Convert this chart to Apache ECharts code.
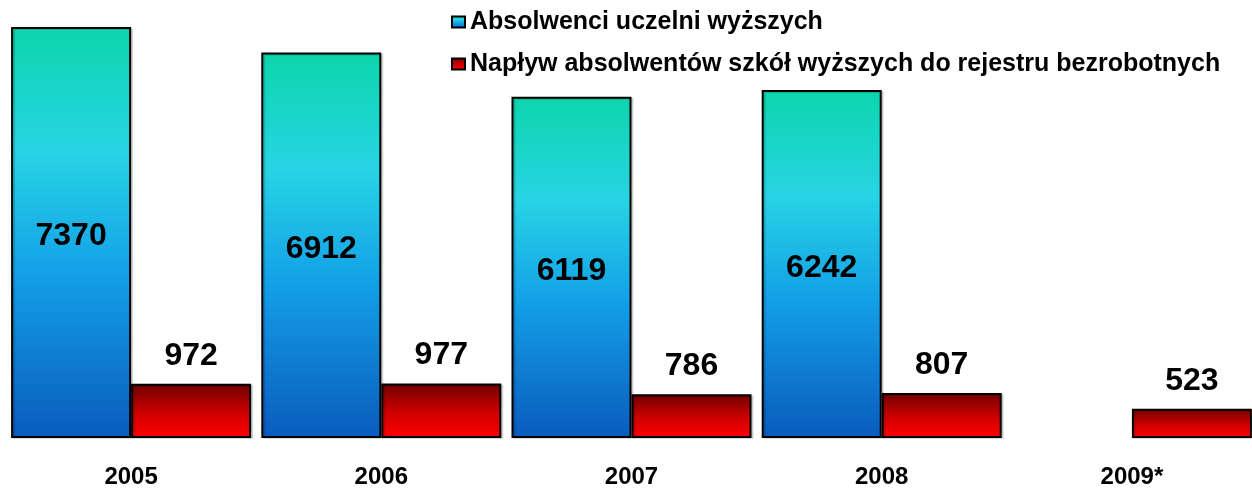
<!DOCTYPE html>
<html>
<head>
<meta charset="utf-8">
<script src="https://cdn.jsdelivr.net/npm/echarts@6/dist/echarts.min.js"></script>
<style>
    html, body { margin: 0; padding: 0; background: #ffffff; }
    #histogram { width: 1252px; height: 490px; }
</style>
</head>
<body>
<div id="histogram"></div>
<script>
var years = ['2005', '2006', '2007', '2008', '2009*'];
var graduates = [7370, 6912, 6119, 6242, null];
var unemployed = [972, 977, 786, 807, 523];

(function(){

    var blueFill = new echarts.graphic.LinearGradient(0, 0, 0, 1, [
        { offset: 0, color: '#0cd6ac' },
        { offset: 0.3, color: '#27d4e4' },
        { offset: 0.6, color: '#13a0e8' },
        { offset: 1, color: '#0a5bbd' }
    ]);
    var redFill = new echarts.graphic.LinearGradient(0, 0, 0, 1, [
        { offset: 0, color: '#720000' },
        { offset: 0.55, color: '#d00000' },
        { offset: 1, color: '#ff0000' }
    ]);

    var option = {
        animation : false,
        legend : {
            orient : 'vertical',
            left : 451,
            top : 9,
            padding : 0,
            itemWidth : 13,
            itemHeight : 11,
            itemGap : 16,
            itemTextGap : 5,
            icon : 'rect',
            data : ['Absolwenci uczelni wyższych', 'Napływ absolwentów szkół wyższych do rejestru bezrobotnych'],
            textStyle : {
                color : '#000000',
                fontFamily : 'Liberation Sans',
                fontWeight : 'bold',
                fontSize : 25,
                lineHeight : 26
            }
        },
        grid : {
            left : 6,
            right : -5,
            top : 27,
            bottom : 52,
            containLabel : false,
            outerBoundsMode : 'none'
        },
        xAxis : {
            type : 'category',
            data : years,
            axisLine : { show : false },
            axisTick : { show : false },
            axisLabel : {
                margin : 27,
                color : '#000000',
                fontFamily : 'Liberation Sans',
                fontWeight : 'bold',
                fontSize : 24
            }
        },
        yAxis : {
            type : 'value',
            min : 0,
            max : 7370,
            show : false,
            splitLine : { show : false }
        },
        series : [
            {
                name : 'Absolwenci uczelni wyższych',
                type : 'bar',
                barWidth : 120,
                barGap : '0%',
                data : graduates,
                itemStyle : {
                    color : blueFill,
                    borderColor : '#000000',
                    borderWidth : 2,
                    shadowColor : 'rgba(0,0,0,0.15)',
                    shadowOffsetX : 2,
                    shadowOffsetY : 1
                },
                label : {
                    show : true,
                    position : 'inside',
                    offset : [0, 4],
                    color : '#000000',
                    fontFamily : 'Liberation Sans',
                    fontWeight : 'bold',
                    fontSize : 32
                }
            },
            {
                name : 'Napływ absolwentów szkół wyższych do rejestru bezrobotnych',
                type : 'bar',
                barWidth : 120,
                data : unemployed,
                itemStyle : {
                    color : redFill,
                    borderColor : '#000000',
                    borderWidth : 2,
                    shadowColor : 'rgba(0,0,0,0.15)',
                    shadowOffsetX : 2,
                    shadowOffsetY : 1
                },
                label : {
                    show : true,
                    position : 'top',
                    distance : 12,
                    color : '#000000',
                    fontFamily : 'Liberation Sans',
                    fontWeight : 'bold',
                    fontSize : 32
                }
            }
        ]
    };

    var myChart = echarts.init(document.getElementById('histogram'));
    myChart.setOption(option);

})();
</script>
</body>
</html>
